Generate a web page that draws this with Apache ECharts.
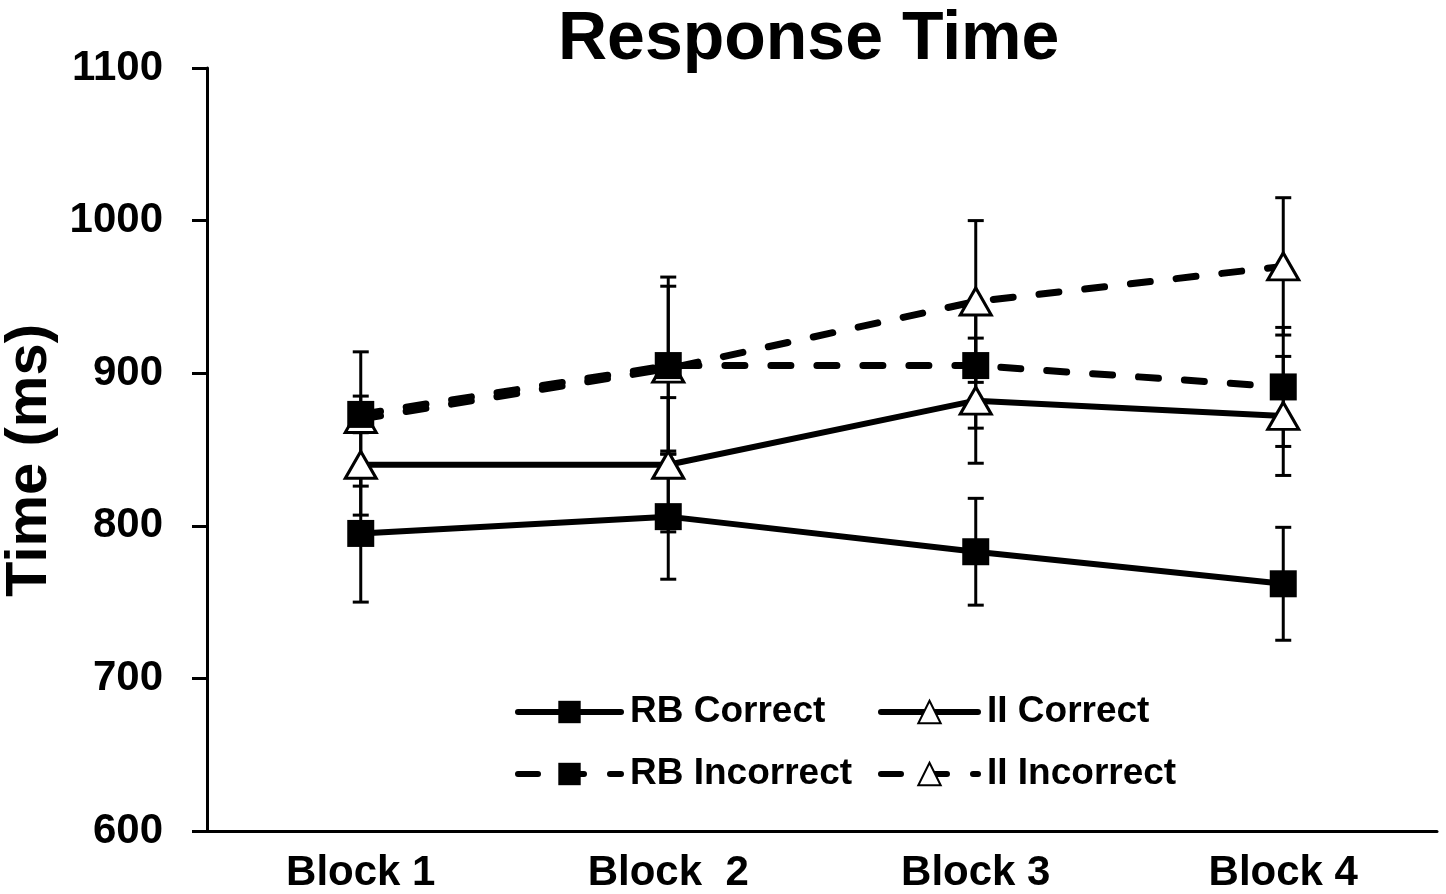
<!DOCTYPE html>
<html>
<head>
<meta charset="utf-8">
<title>Response Time</title>
<script src="https://cdn.jsdelivr.net/npm/echarts@6/dist/echarts.min.js"></script>
<style>
    html, body { margin: 0; padding: 0; background: #fff; }
    #chart { width: 1446px; height: 894px; }
</style>
</head>
<body>
<div id="chart"></div>
<script>
// Data
var blocks = ['Block 1', 'Block  2', 'Block 3', 'Block 4'];
var yTicks = [600, 700, 800, 900, 1000, 1100];

var rbCorrect = [795, 806, 783, 762];
var rbCorrectErr = [45, 41, 35, 37];
var iiCorrect = [840, 840, 882, 872];
var iiCorrectErr = [33, 44, 41, 39];
var rbIncorrect = [873, 905, 905, 891];
var rbIncorrectErr = [12, 58, 41, 39];
var iiIncorrect = [870, 903, 947, 970];
var iiIncorrectErr = [44, 54, 53, 45];

var FONT = '"Liberation Sans", Arial, sans-serif';

// error bars as custom series (vertical line + caps)
function errorBars(name, values, errs) {
    return {
        name: name,
        type: 'custom',
        silent: true,
        z: 1,
        data: values.map(function (v, i) { return [i, v - errs[i], v + errs[i]]; }),
        encode: { x: 0, y: [1, 2] },
        renderItem: function (params, api) {
            var lo = api.coord([api.value(0), api.value(1)]);
            var hi = api.coord([api.value(0), api.value(2)]);
            var w = 8;
            var st = { stroke: '#000', lineWidth: 3, fill: null };
            return {
                type: 'group',
                children: [
                    { type: 'line', shape: { x1: hi[0], y1: hi[1], x2: lo[0], y2: lo[1] }, style: st },
                    { type: 'line', shape: { x1: hi[0] - w, y1: hi[1], x2: hi[0] + w, y2: hi[1] }, style: st },
                    { type: 'line', shape: { x1: lo[0] - w, y1: lo[1], x2: lo[0] + w, y2: lo[1] }, style: st }
                ]
            };
        }
    };
}

function squareLine(name, values, dashed) {
    return {
        name: name,
        type: 'line',
        data: values,
        z: 3,
        symbol: 'rect',
        symbolSize: 27,
        itemStyle: { color: '#000' },
        lineStyle: { color: '#000', width: dashed ? 7 : 6, type: dashed ? [20, 26] : 'solid', cap: 'round' }
    };
}

function triangleLine(name, values, dashed) {
    return {
        name: name,
        type: 'line',
        data: values,
        z: 2,
        symbol: 'triangle',
        symbolSize: [31, 27],
        itemStyle: { color: '#fff', borderColor: '#000', borderWidth: 3 },
        lineStyle: { color: '#000', width: dashed ? 7 : 6, type: dashed ? [20, 26] : 'solid', cap: 'round' }
    };
}

var chart = echarts.init(document.getElementById('chart'));

var legendText = { fontFamily: FONT, fontWeight: 'bold', fontSize: 37, color: '#000', lineHeight: 40, padding: [0, 0, 0, 4] };

var option = {
    animation: false,
    backgroundColor: '#fff',
    title: {
        text: 'Response Time',
        left: 553,
        top: 1,
        textStyle: { fontFamily: FONT, fontWeight: 'bold', fontSize: 68, color: '#000' }
    },
    legend: [
        {
            orient: 'vertical',
            left: 510,
            top: 687,
            itemWidth: 103,
            itemHeight: 28,
            itemGap: 22,
            lineStyle: { width: 6 },
            data: ['RB Correct', 'RB Incorrect'],
            textStyle: legendText
        },
        {
            orient: 'vertical',
            left: 873,
            top: 687,
            itemWidth: 97,
            itemHeight: 28,
            itemGap: 22,
            lineStyle: { width: 6 },
            data: ['II Correct', 'II Incorrect'],
            textStyle: legendText
        }
    ],
    grid: { left: 207, right: 9, top: 68, bottom: 63, containLabel: false, outerBoundsMode: 'none' },
    xAxis: {
        type: 'category',
        data: blocks,
        axisLine: { lineStyle: { color: '#000', width: 3 } },
        axisTick: { show: false },
        axisLabel: { fontFamily: FONT, fontWeight: 'bold', fontSize: 42, color: '#000', margin: 21 }
    },
    yAxis: {
        type: 'value',
        min: yTicks[0],
        max: yTicks[yTicks.length - 1],
        interval: 100,
        name: 'Time (ms)',
        nameLocation: 'middle',
        nameGap: 134,
        nameTextStyle: { fontFamily: FONT, fontWeight: 'bold', fontSize: 58, color: '#000', padding: [0, 22, 0, 0] },
        axisLine: { show: true, lineStyle: { color: '#000', width: 3 } },
        axisTick: { show: true, length: 15, lineStyle: { color: '#000', width: 3 } },
        splitLine: { show: false },
        axisLabel: {
            fontFamily: FONT, fontWeight: 'bold', fontSize: 42, color: '#000', margin: 44,
            formatter: function (v) { return String(v); }
        }
    },
    series: [
        errorBars('RB Correct err', rbCorrect, rbCorrectErr),
        errorBars('II Correct err', iiCorrect, iiCorrectErr),
        errorBars('RB Incorrect err', rbIncorrect, rbIncorrectErr),
        errorBars('II Incorrect err', iiIncorrect, iiIncorrectErr),
        squareLine('RB Correct', rbCorrect, false),
        triangleLine('II Correct', iiCorrect, false),
        triangleLine('II Incorrect', iiIncorrect, true),
        squareLine('RB Incorrect', rbIncorrect, true)
    ]
};

chart.setOption(option);

window.addEventListener('resize', function () {
    chart.resize();
});
</script>
</body>
</html>
